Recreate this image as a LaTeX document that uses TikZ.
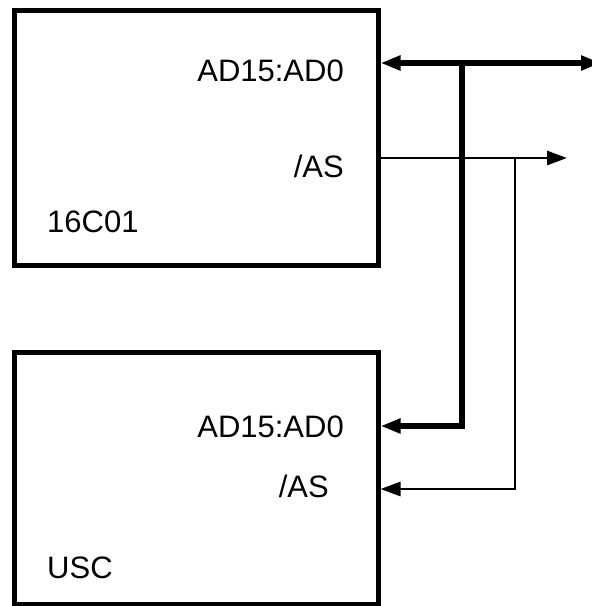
\documentclass[tikz,border=0pt]{standalone}
\usepackage{fontspec}
\setmainfont{Liberation Sans}
\usetikzlibrary{arrows.meta}
\begin{document}
\begin{tikzpicture}[x=1pt,y=-1pt,
  chip/.style={draw, line width=5pt, minimum width=364pt, inner sep=0pt},
  lbl/.style={font=\fontsize{31}{37}\selectfont, inner sep=0pt},
  bus/.style={line width=5.5pt},
  sig/.style={line width=2.8pt},
  tip/.style={-{Triangle[length=20pt,width=14pt]}},
  bitip/.style={{Triangle[length=20pt,width=14pt]}-{Triangle[length=20pt,width=14pt]}}
]
\useasboundingbox (0,0) rectangle (592,606);
\node[chip, minimum height=255pt] (top) at (196,137.5) {};
\node[chip, minimum height=252pt] (bot) at (196,478) {};

\node[lbl, anchor=base east] (t1) at (344,81) {AD15:AD0};
\node[lbl, anchor=base east] (t2) at (344,177) {/AS};
\node[lbl, anchor=base west] (t3) at (47,232) {16C01};
\node[lbl, anchor=base east] (b1) at (344,437) {AD15:AD0};
\node[lbl, anchor=base east] (b2) at (329,497) {/AS};
\node[lbl, anchor=base west] (b3) at (47,578) {USC};

\coordinate (j1) at (462,63);
\coordinate (j2) at (462,426);
\coordinate (busend) at (601,63);
\coordinate (s1) at (515,158);
\coordinate (s2) at (515,489);
\coordinate (asend) at (567,158);

\draw[bus, bitip] (top.east |- j1) -- (busend);
\draw[bus, tip, line join=miter] (j1) -- (j2) -- (bot.east |- j2);
\draw[sig, tip] (top.east |- s1) -- (asend);
\draw[sig, tip, line join=miter] (s1) -- (s2) -- (bot.east |- s2);
\end{tikzpicture}
\end{document}
